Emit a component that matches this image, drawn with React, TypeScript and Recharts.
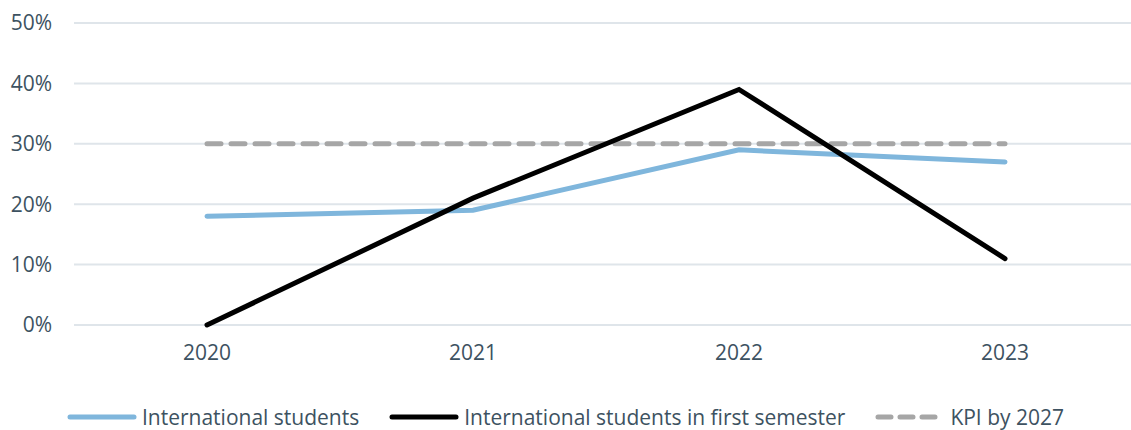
import { CartesianGrid, Line, LineChart, XAxis, YAxis } from 'recharts'

const years = ['2020', '2021', '2022', '2023']
const intlStudents = [18, 19, 29, 27]
const firstSemester = [0, 21, 39, 11]
const kpi2027 = [30, 30, 30, 30]
const yTicks = [0, 10, 20, 30, 40, 50]

const data = years.map((y, i) => ({
  year: y,
  intl: intlStudents[i],
  first: firstSemester[i],
  kpi: kpi2027[i],
}))

const TEXT = '#3d5261'
const FONT = '"Open Sans", sans-serif'
const FS = 21

const legendItems = [
  { label: 'International students', color: '#7fb6dc', dash: undefined as string | undefined },
  { label: 'International students in first semester', color: '#000000', dash: undefined },
  { label: 'KPI by 2027', color: '#a6a6a6', dash: '13 9' },
]

function ChartLegend() {
  return (
    <div
      style={{
        position: 'absolute',
        top: 403,
        left: 0,
        width: 1131,
        display: 'flex',
        justifyContent: 'center',
        gap: 30,
        fontFamily: FONT,
        fontSize: FS,
        lineHeight: '28px',
        color: TEXT,
      }}
    >
      {legendItems.map((it) => (
        <div key={it.label} style={{ display: 'flex', alignItems: 'center', gap: 5 }}>
          <svg width={70} height={10}>
            <line
              x1={3}
              y1={5}
              x2={67}
              y2={5}
              stroke={it.color}
              strokeWidth={5}
              strokeLinecap="round"
              strokeDasharray={it.dash}
            />
          </svg>
          <span>{it.label}</span>
        </div>
      ))}
    </div>
  )
}

export default function App() {
  return (
    <div style={{ position: 'absolute', top: 0, left: 0, width: 1131, height: 430, overflow: 'hidden', background: '#fff' }}>
      <LineChart width={1138} height={430} data={data} margin={{ top: 23, right: 0, bottom: 75, left: 0 }}>
        <CartesianGrid vertical={false} stroke="#dfe5ea" strokeWidth={2} />
        <XAxis
          dataKey="year"
          axisLine={false}
          tickLine={false}
          tickSize={0}
          tickMargin={20}
          height={30}
          padding={{ left: 133, right: 133 }}
          tick={{ fill: TEXT, fontSize: FS, fontFamily: FONT }}
        />
        <YAxis
          domain={[0, 50]}
          ticks={yTicks}
          width={74}
          axisLine={false}
          tickLine={false}
          tickSize={0}
          tickMargin={22}
          tickFormatter={(v: number) => `${v}%`}
          tick={{ fill: TEXT, fontSize: FS, fontFamily: FONT }}
        />
        <Line dataKey="kpi" stroke="#a6a6a6" strokeWidth={5} strokeDasharray="14 10" strokeLinecap="round" dot={false} isAnimationActive={false} />
        <Line dataKey="intl" stroke="#7fb6dc" strokeWidth={5} strokeLinecap="round" dot={false} isAnimationActive={false} />
        <Line dataKey="first" stroke="#000000" strokeWidth={5} strokeLinecap="round" dot={false} isAnimationActive={false} />
      </LineChart>
      <ChartLegend />
    </div>
  )
}
